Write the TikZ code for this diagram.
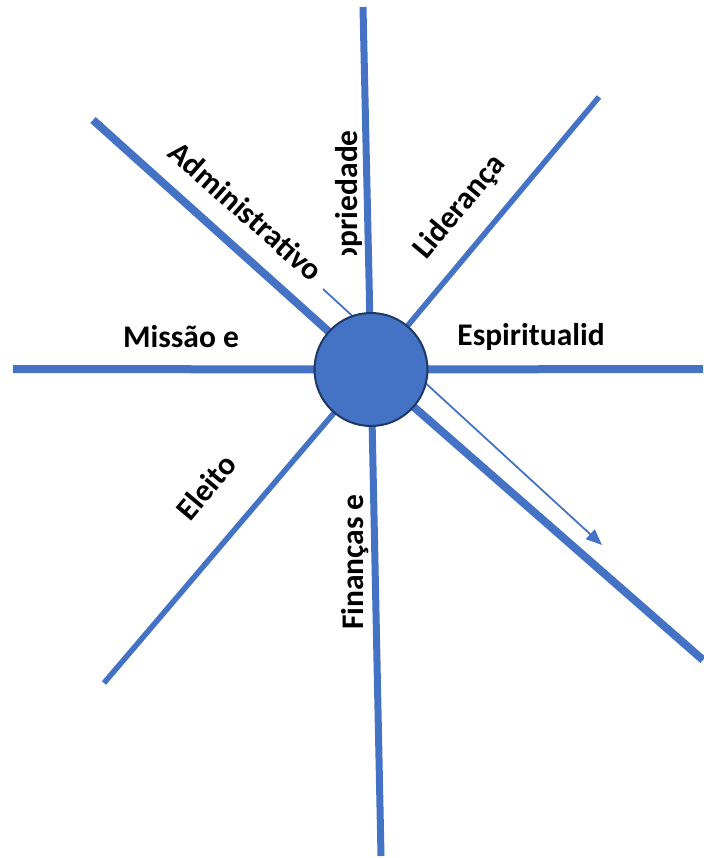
\documentclass[tikz,border=0pt]{standalone}
\usepackage{fontspec}
\setmainfont{Carlito}
\usetikzlibrary{arrows.meta}
\definecolor{spoke}{HTML}{4472C4}
\definecolor{rim}{HTML}{1F3864}
\tikzset{
  spokeline/.style={draw=spoke, line width=#1},
  spokeline/.default=7pt,
  lbl/.style={font=\fontsize{31.5}{37}\selectfont\bfseries, inner sep=0pt, text=black},
  hub/.style={circle, fill=spoke, draw=rim, line width=2pt, minimum size=113pt, inner sep=0pt},
  thinarrow/.style={draw=spoke, line width=1.8pt, -{Triangle[length=16pt,width=13pt]}}
}
\begin{document}
\begin{tikzpicture}[x=1pt,y=-1pt]
\useasboundingbox (0,0) rectangle (703,858);
\coordinate (c) at (371,369.5);
\coordinate (eN) at (363,7);
\coordinate (eS) at (381,856);
\coordinate (eW) at (13,369);
\coordinate (eE) at (703,369);
\coordinate (eNW) at (93,120);
\coordinate (eNE) at (599,97);
\coordinate (eSW) at (104,683);
\coordinate (eSE) at (703,660);
\coordinate (aS) at (323,289);
\coordinate (aE) at (602,545);
\draw[spokeline=7pt] (eN) -- (c);
\draw[spokeline=7pt] (eS) -- (c);
\draw[spokeline=8pt] (eW) -- (c);
\draw[spokeline=8pt] (eE) -- (c);
\draw[spokeline=8pt] (eNW) -- (c);
\draw[spokeline=8pt] (eSE) -- (c);
\draw[spokeline=5.5pt] (eNE) -- (c);
\draw[spokeline=5.5pt] (eSW) -- (c);
\draw[thinarrow] (aS) -- (aE);
\node[hub] (h) at (c) {};
\node[lbl, anchor=base] (esp) at (531,345) {Espiritualid};
\node[lbl, anchor=base] (mis) at (181,347) {Missão e};
\node[lbl, rotate=-41.5] (adm) at (246,211) {Administrativo};
\node[lbl, rotate=50] (lid) at (460,207) {Liderança};
\node[lbl, rotate=50] (ele) at (206,487) {Eleito};
\node[lbl, rotate=90, anchor=base] (fin) at (363,562) {Finanças e};
\begin{scope}
\clip (300,0) rectangle (420,255);
\node[lbl, rotate=90, anchor=base east] (pro) at (357,130) {Propriedade};
\end{scope}
\end{tikzpicture}
\end{document}
